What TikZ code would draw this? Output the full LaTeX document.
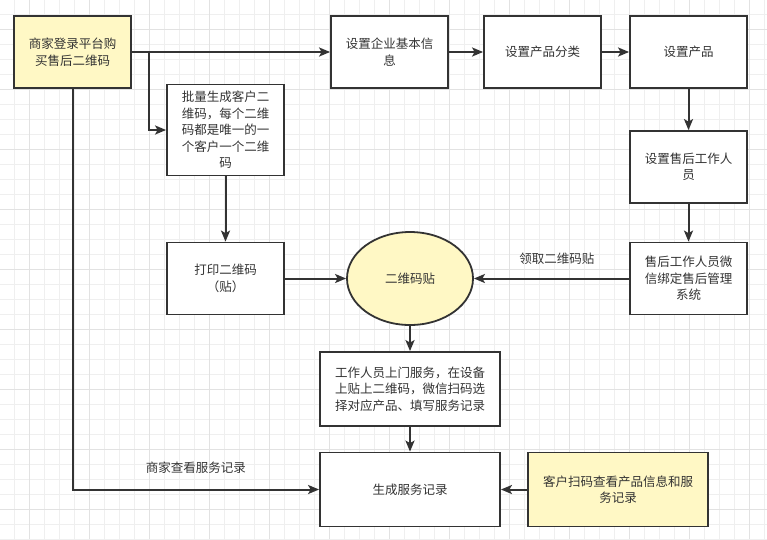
\documentclass[tikz,border=0pt]{standalone}
\usepackage{fontspec}
\setmainfont{Noto Sans CJK SC}
\usepackage{tikz}
\usetikzlibrary{shapes.geometric, arrows.meta, positioning, calc}

\definecolor{inkgray}{HTML}{333333}
\definecolor{noteyellow}{HTML}{FFF8C5}
\definecolor{gridminor}{HTML}{EFEFEF}
\definecolor{gridmajor}{HTML}{E2E2E2}

\begin{document}
\begin{tikzpicture}[x=1pt, y=-1pt,
    box/.style={draw=inkgray, line width=1.8pt, rectangle, fill=white, minimum width=117pt, minimum height=72pt, align=center, text=inkgray, font=\fontsize{12.5}{16.5}\selectfont},
    widebox/.style={box, minimum width=180pt, minimum height=74pt},
    notebox/.style={fill=noteyellow},
    flow/.style={draw=inkgray, line width=2pt, -{Stealth[length=11pt, width=9pt, inset=2.5pt]}},
    lbl/.style={text=inkgray, font=\fontsize{12.5}{16.5}\selectfont}]
\useasboundingbox (0,0) rectangle (767,539);

% grid
\foreach \g in {14,29,...,767} \draw[gridminor, line width=0.6pt] (\g,0) -- (\g,539);
\foreach \g in {14,29,...,539} \draw[gridminor, line width=0.6pt] (0,\g) -- (767,\g);
\foreach \g in {29,89,...,767} \draw[gridmajor, line width=0.8pt] (\g,0) -- (\g,539);
\foreach \g in {29,89,...,539} \draw[gridmajor, line width=0.8pt] (0,\g) -- (767,\g);

\node[box, notebox] (buy) at (72.5,52) {商家登录平台购\\买售后二维码};
\node[box] (company) at (389.5,52) {设置企业基本信\\息};
\node[box] (category) at (542.5,52) {设置产品分类};
\node[box] (product) at (688.5,52) {设置产品};
\node[box] (staff) at (688.5,167) {设置售后工作人\\员};
\node[box] (bind) at (688.5,278.5) {售后工作人员微\\信绑定售后管理\\系统};
\node[box, minimum height=91pt] (batch) at (225.5,130) {批量生成客户二\\维码，每个二维\\码都是唯一的一\\个客户一个二维\\码};
\node[box] (print) at (225.5,278.5) {打印二维码\\（贴）};
\node[draw=inkgray, line width=1.8pt, ellipse, fill=noteyellow, minimum width=126pt, minimum height=93pt, text=inkgray, font=\fontsize{12.5}{16.5}\selectfont] (sticker) at (410,278.5) {二维码贴};
\node[widebox] (service) at (410,389) {工作人员上门服务，在设备\\上贴上二维码，微信扫码选\\择对应产品、填写服务记录};
\node[widebox] (record) at (410,489.5) {生成服务记录};
\node[box, notebox, minimum width=180pt, minimum height=74pt] (scan) at (618,489.5) {客户扫码查看产品信息和服\\务记录};

\coordinate (split) at (149,52);

\draw[flow] (buy) -- (company);
\draw[flow] (split) |- (batch.west);
\draw[flow] (company) -- (category);
\draw[flow] (category) -- (product);
\draw[flow] (product) -- (staff);
\draw[flow] (staff) -- (bind);
\draw[flow] (batch) -- (print);
\draw[flow] (print) -- (sticker);
\draw[flow] (bind) -- node[lbl, above=10pt, pos=0.465] (fetch) {领取二维码贴} (sticker);
\draw[flow] (sticker) -- (service);
\draw[flow] (service) -- (record);
\draw[flow] (scan) -- (record);
\draw[flow] (buy.south) |- node[lbl, above=12pt, pos=0.75] (view) {商家查看服务记录} (record.west);
\end{tikzpicture}
\end{document}
